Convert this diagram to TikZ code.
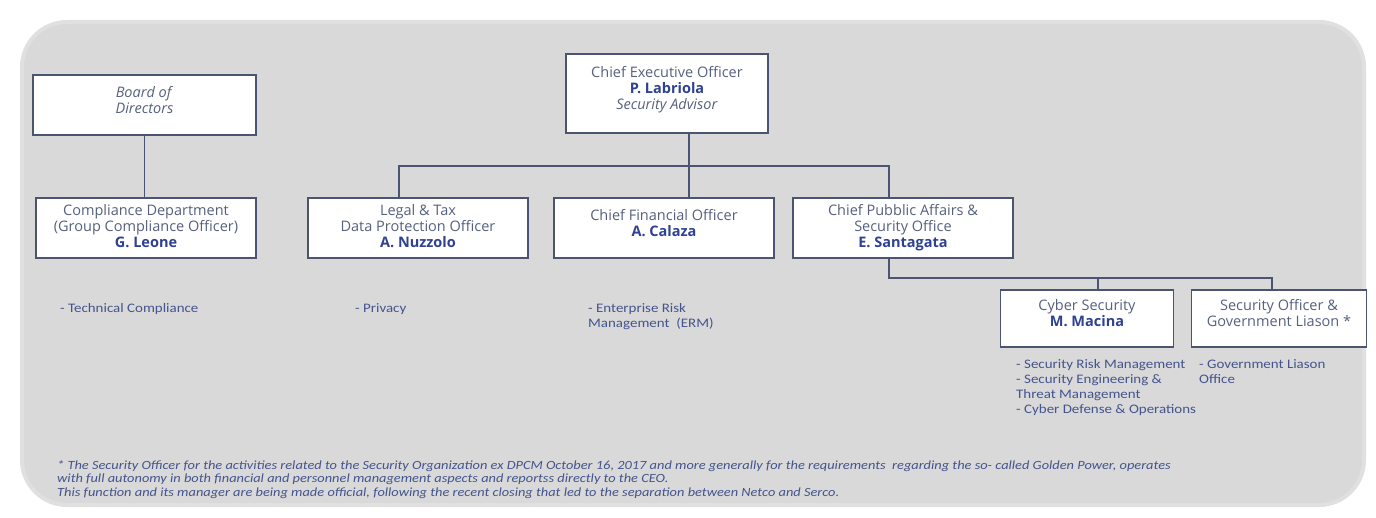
\documentclass[tikz,border=0pt]{standalone}
\usepackage{fontspec}
\setmainfont{Open Sans}
\newfontfamily\notefont[FakeStretch=1.15]{Carlito}
\usepackage{tikz}
\definecolor{nameblue}{HTML}{2E4192}
\definecolor{boxgrey}{HTML}{56617E}
\definecolor{dutyblue}{HTML}{44548C}
\definecolor{linegrey}{HTML}{4B5472}
\definecolor{bggrey}{HTML}{D9D9D9}
\newcommand\orgname[1]{{\bfseries\color{nameblue}#1}}
\tikzset{
  box_font/.style = {font=\fontsize{14.5}{16}\selectfont, text=boxgrey},
  duty_font/.style = {font=\notefont\fontsize{13}{15}\selectfont, text=dutyblue},
  note_font/.style = {font=\notefont\itshape\fontsize{12.5}{13.5}\selectfont, text=dutyblue},
  full_size/.style = {minimum width=220, minimum height=60},
  small_size/.style = {minimum width=173, minimum height=57},
  centred/.style = {text depth=4}
}
\tikzset{
  org/.style = {box_font, align=center, draw=linegrey, line width=1.1, fill=white, inner sep=2, text depth=11},
  duty/.style = {duty_font, align=left, anchor=north west, inner sep=0},
  link/.style = {draw=linegrey, line width=1.1}
}
\usetikzlibrary{positioning, calc}

\begin{document}
\begin{tikzpicture}[x=1pt, y=-1pt]
        \useasboundingbox (0,0) rectangle (1376,518);
        \draw[fill=bggrey, draw=black!12, line width=4, rounded corners=45] (22,22) rectangle (1364,505);

        % Boxes
        \node[org, minimum width=223, minimum height=60] at (144.5,105) (board) {
            \textit{Board of}\\ \textit{Directors}};
        \node[org, minimum width=202, minimum height=79] at (667,93.5) (ceo) {
            Chief Executive Officer\\ \orgname{P. Labriola}\\ \textit{Security Advisor}};
        \node[org, full_size, centred] at (146,228) (compliance) {
            Compliance Department\\ (Group Compliance Officer)\\ \orgname{G. Leone}};
        \node[org, full_size, centred] at (418,228) (legal) {
            Legal \& Tax\\ Data Protection Officer\\ \orgname{A. Nuzzolo}};
        \node[org, full_size] at (664,228) (cfo) {
            Chief Financial Officer\\ \orgname{A. Calaza}};
        \node[org, full_size, centred] at (903,228) (public) {
            Chief Pubblic Affairs \&\\ Security Office\\ \orgname{E. Santagata}};
        \node[org, small_size] at (1087,318.5) (cyber) {
            Cyber Security\\ \orgname{M. Macina}};
        \node[org, small_size, minimum width=175] at (1279,318.5) (liaison) {
            Security Officer \&\\ Government Liason *};

        % Duties
        \node[duty] at (60,303) (compliance_d) {- Technical Compliance};
        \node[duty] at (355,303) (legal_d) {- Privacy};
        \node[duty] at (588,303) (cfo_d) {- Enterprise Risk\\ Management\ \ (ERM)};
        \node[duty] at (1016,359) (cyber_d) {
            - Security Risk Management\\
            - Security Engineering \&\\
            Threat Management\\
            - Cyber Defense \& Operations};
        \node[duty] at (1199,359) (liaison_d) {- Government Liason\\ Office};

        % Footnote
        \node[note_font, align=left, anchor=north west, inner sep=0] at (57,460) (note) {
            * The Security Officer for the activities related to the Security Organization ex DPCM October 16, 2017 and more generally for the requirements\ \ regarding the so- called Golden Power, operates\\
            with full autonomy in both financial and personnel management aspects and reportss directly to the CEO.\\
            This function and its manager are being made official,\ following the recent closing that led to the separation between Netco and Serco.};

        % Lines
        \coordinate (ceo_bus) at (689,166);
        \coordinate (legal_bus) at (399,166);
        \coordinate (public_bus) at (889,166);
        \coordinate (sec_bus) at (889,278);
        \coordinate (cyber_bus) at (1098,278);
        \coordinate (liaison_bus) at (1272,278);

        \draw[link] (board.south) -- (board.south |- compliance.north);
        \draw[link] (ceo.south -| ceo_bus) -- (cfo.north -| ceo_bus);
        \draw[link] (legal.north -| legal_bus) -- (legal_bus) -- (public_bus) -- (public.north -| public_bus);
        \draw[link] (public.south -| sec_bus) -- (sec_bus) -- (liaison_bus) -- (liaison.north -| liaison_bus);
        \draw[link] (cyber_bus) -- (cyber.north -| cyber_bus);
\end{tikzpicture}
\end{document}
